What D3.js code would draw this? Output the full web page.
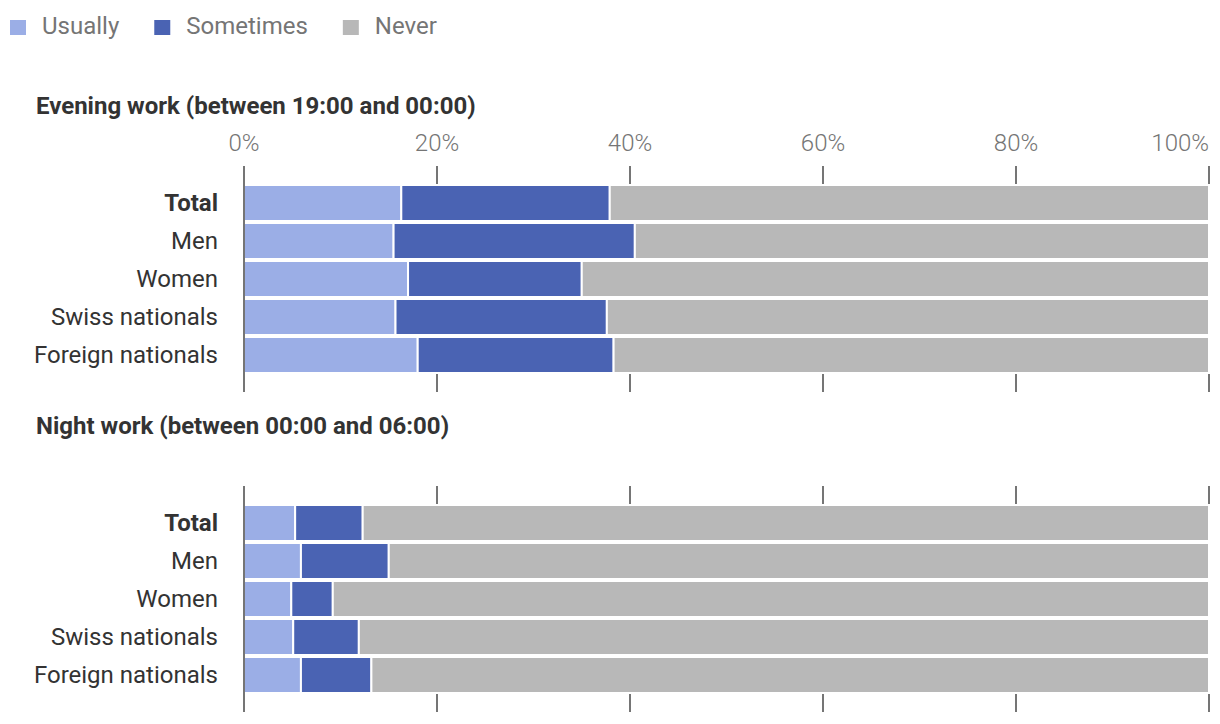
<!DOCTYPE html>
<html>
<head>
<meta charset="utf-8">
<script src="https://cdn.jsdelivr.net/npm/d3@7"></script>
<style>
  html, body { margin: 0; padding: 0; background: #fff; }
  svg { display: block; font-family: Roboto, "Noto Sans", sans-serif; }
</style>
</head>
<body>
<svg id="chart" width="1220" height="724"></svg>
<script>
const categories = ["Total", "Men", "Women", "Swiss nationals", "Foreign nationals"];
const seriesNames = ["Usually", "Sometimes", "Never"];
const seriesColors = ["#9baee6", "#4a63b3", "#b8b8b8"];

// Evening work (between 19:00 and 00:00), % of workers
const eveningUsually   = [16.3, 15.5, 17.0, 15.7, 18.0];
const eveningSometimes = [21.6, 25.0, 18.0, 21.9, 20.3];
const eveningNever     = [62.1, 59.5, 65.0, 62.4, 61.7];

// Night work (between 00:00 and 06:00), % of workers
const nightUsually   = [5.3, 5.9, 4.9, 5.1, 5.9];
const nightSometimes = [7.0, 9.1, 4.3, 6.8, 7.3];
const nightNever     = [87.7, 85.0, 90.8, 88.1, 86.8];

const tickValues = [0, 20, 40, 60, 80, 100];
const tickLabels = ["0%", "20%", "40%", "60%", "80%", "100%"];

const panels = [
  { title: "Evening work (between 19:00 and 00:00)", usually: eveningUsually, sometimes: eveningSometimes, never: eveningNever, titleY: 114, top: 184, showTicks: true },
  { title: "Night work (between 00:00 and 06:00)", usually: nightUsually, sometimes: nightSometimes, never: nightNever, titleY: 434, top: 504, showTicks: false }
];

const svg = d3.select("#chart");
const x = d3.scaleLinear().domain([0, 100]).range([244, 1209]);

// Legend
const legend = svg.append("g");
let lx = 10;
seriesNames.forEach((name, i) => {
  legend.append("rect").attr("x", lx).attr("y", 20).attr("width", 16).attr("height", 15).attr("fill", seriesColors[i]);
  const t = legend.append("text").attr("x", lx + 32).attr("y", 34).attr("font-size", 24)
    .attr("fill", "#757575").text(name);
  lx += 32 + t.node().getComputedTextLength() + 35;
});

panels.forEach(p => {
  const g = svg.append("g");
  const y = d3.scaleBand().domain(categories)
    .range([p.top, p.top + 190]).paddingInner(4 / 38).paddingOuter(2 / 38);
  const gridTop = p.top - 18, gridBottom = p.top + 190 + 18;

  g.append("text").attr("x", 36).attr("y", p.titleY).attr("font-size", 24)
    .attr("font-weight", 700).attr("fill", "#333").text(p.title);

  // gridlines
  g.selectAll("line.grid").data(tickValues).enter().append("line")
    .attr("x1", d => x(d)).attr("x2", d => x(d))
    .attr("y1", gridTop).attr("y2", gridBottom)
    .attr("stroke", "#757575").attr("stroke-width", 2);

  if (p.showTicks) {
    g.selectAll("text.tick").data(tickValues).enter().append("text")
      .attr("x", d => x(d)).attr("y", 151)
      .attr("text-anchor", (d, i) => i === tickValues.length - 1 ? "end" : "middle")
      .attr("font-size", 24).attr("font-weight", 300).attr("fill", "#757575")
      .text((d, i) => tickLabels[i]);
  }

  const stacked = categories.map((c, i) => ({ cat: c, Usually: p.usually[i], Sometimes: p.sometimes[i], Never: p.never[i] }));
  const series = d3.stack().keys(seriesNames)(stacked);

  series.forEach((s, si) => {
    g.selectAll(null).data(s).enter().append("rect")
      .attr("x", d => x(d[0]))
      .attr("width", d => x(d[1]) - x(d[0]))
      .attr("y", d => y(d.data.cat) - 1)
      .attr("height", y.bandwidth() + 2)
      .attr("fill", seriesColors[si])
      .attr("stroke", "#fff").attr("stroke-width", 2);
  });

  // axis line at 0 on top of bars
  g.append("line").attr("x1", x(0)).attr("x2", x(0)).attr("y1", gridTop).attr("y2", gridBottom)
    .attr("stroke", "#757575").attr("stroke-width", 2);

  g.selectAll("text.cat").data(categories).enter().append("text")
    .attr("x", 218).attr("y", d => y(d) + y.bandwidth() / 2)
    .attr("dy", "0.35em").attr("text-anchor", "end")
    .attr("font-size", 24).attr("font-weight", (d, i) => i === 0 ? 700 : 400)
    .attr("fill", "#333").text(d => d);
});
</script>
</body>
</html>
